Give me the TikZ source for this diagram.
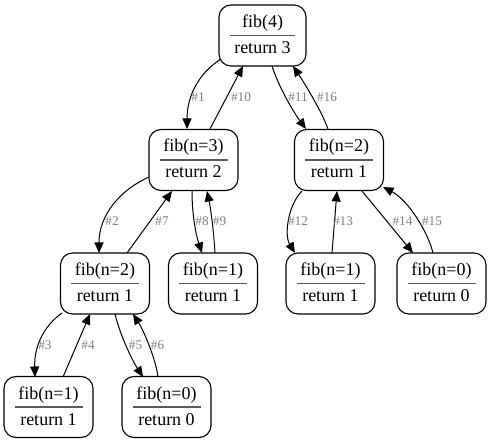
\documentclass[tikz,border=0pt]{standalone}
\usepackage{fontspec}
\setmainfont{Liberation Serif}
\usetikzlibrary{arrows.meta}
\tikzset{
 fbox/.style={draw, line width=1.1pt, rounded corners=12pt, minimum height=61pt, inner sep=0pt},
 ftxt/.style={anchor=base, inner sep=0pt, font=\fontsize{18}{20}\selectfont},
 divider/.style={draw=black!65, line width=1.7pt},
 conn/.style={draw, line width=1pt, -{Triangle[length=10.5pt,width=9pt]}},
 lab/.style={text=black!50, font=\fontsize{13.3}{15}\selectfont, inner sep=0pt},
}
\newcommand\fibnode[7]{%
 \node[fbox, minimum width=#4pt] (#1) at (#2,#3) {};
 \node[ftxt] (#1t) at ([yshift=8pt]#1.center) {#6};
 \node[ftxt] (#1b) at ([yshift=-18pt]#1.center) {#7};
 \draw[divider] ([xshift=-#5pt]#1.center) -- ([xshift=#5pt]#1.center);
}
\begin{document}
\begin{tikzpicture}[x=1pt,y=-1pt]
\useasboundingbox (0,0) rectangle (491,444);
\fibnode{f4}{262.5}{35.5}{87}{32.5}{fib(4)}{return 3}
\fibnode{f3}{193.5}{160}{89}{34}{fib(n=3)}{return 2}
\fibnode{f2l}{105}{283.5}{89}{34}{fib(n=2)}{return 1}
\fibnode{f1m}{213}{283.5}{89}{34}{fib(n=1)}{return 1}
\fibnode{f1bl}{48.5}{407}{89}{34}{fib(n=1)}{return 1}
\fibnode{f0b}{166.5}{407}{89}{34}{fib(n=0)}{return 0}
\fibnode{f2r}{339}{160}{89}{34}{fib(n=2)}{return 1}
\fibnode{f1r}{330.5}{283.5}{89}{34}{fib(n=1)}{return 1}
\fibnode{f0r}{441.5}{283.5}{89}{34}{fib(n=0)}{return 0}

% edges
\draw[conn] ([shift={(-41.5,23.5)}]f4.center) .. controls +(-21,13) and +(0,-34) .. ([shift={(-6.5,-31)}]f3.center);
\draw[conn] ([shift={(16.5,-31)}]f3.center) -- ([shift={(-19.5,30.5)}]f4.center);
\draw[conn] ([shift={(9.5,30.5)}]f4.center) .. controls +(6,19) and +(-14,-19) .. ([shift={(-33,-31)}]f2r.center);
\draw[conn] ([shift={(-11,-31)}]f2r.center) .. controls +(-6,-17) and +(12,18) .. ([shift={(30.5,30.5)}]f4.center);
\draw[conn] ([shift={(-44.5,17)}]f3.center) .. controls +(-29,13) and +(0,-38) .. ([shift={(-6,-30.5)}]f2l.center);
\draw[conn] ([shift={(22,-30.5)}]f2l.center) -- ([shift={(-21.5,31)}]f3.center);
\draw[conn] ([shift={(-1.5,31)}]f3.center) .. controls +(0,24) and +(-6,-18) .. ([shift={(-11,-30.5)}]f1m.center);
\draw[conn] ([shift={(2,-30.5)}]f1m.center) .. controls +(-1,-18) and +(4,19) .. ([shift={(13.5,31)}]f3.center);
\draw[conn] ([shift={(-43,29.5)}]f2l.center) .. controls +(-17,12) and +(-1,-32) .. ([shift={(-13.5,-30)}]f1bl.center);
\draw[conn] ([shift={(14.5,-30)}]f1bl.center) -- ([shift={(-15,30.5)}]f2l.center);
\draw[conn] ([shift={(10,30.5)}]f2l.center) .. controls +(5,21) and +(-11,-17) .. ([shift={(-23.5,-30)}]f0b.center);
\draw[conn] ([shift={(-8.5,-30)}]f0b.center) .. controls +(-3,-22) and +(9,14) .. ([shift={(28,30.5)}]f2l.center);
\draw[conn] ([shift={(-37,31)}]f2r.center) .. controls +(-14,14) and +(-11,-18) .. ([shift={(-35.5,-30.5)}]f1r.center);
\draw[conn] ([shift={(1.5,-30.5)}]f1r.center) -- ([shift={(-2,31)}]f2r.center);
\draw[conn] ([shift={(23,31)}]f2r.center) -- ([shift={(-28.5,-30.5)}]f0r.center);
\draw[conn] ([shift={(-8.5,-30.5)}]f0r.center) .. controls +(-5,-21) and +(25,13) .. ([shift={(44,27)}]f2r.center);

% labels
\node[lab] (l1) at (198,97) {\#1};
\node[lab] (l10) at (241,97) {\#10};
\node[lab] (l11) at (298,97) {\#11};
\node[lab] (l16) at (327,97) {\#16};
\node[lab] (l2) at (112,221) {\#2};
\node[lab] (l7) at (162,221) {\#7};
\node[lab] (l8) at (202,221) {\#8};
\node[lab] (l9) at (219.5,221) {\#9};
\node[lab] (l3) at (45,345) {\#3};
\node[lab] (l4) at (88,345) {\#4};
\node[lab] (l5) at (135.5,345) {\#5};
\node[lab] (l6) at (157.5,345) {\#6};
\node[lab] (l12) at (298,221) {\#12};
\node[lab] (l13) at (343,221) {\#13};
\node[lab] (l14) at (402.5,221) {\#14};
\node[lab] (l15) at (432,221) {\#15};
\end{tikzpicture}
\end{document}
